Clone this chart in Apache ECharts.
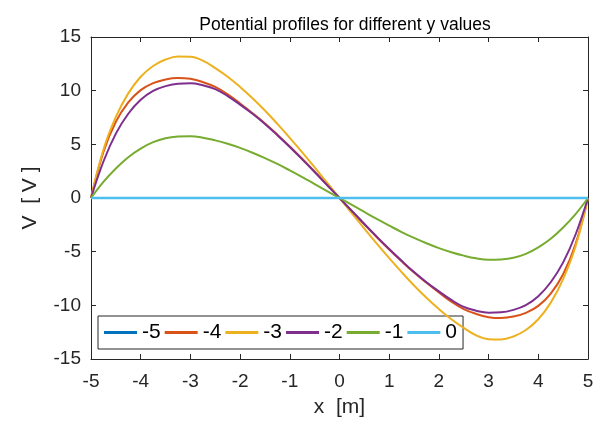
<!DOCTYPE html>
<html>
<head>
<meta charset="utf-8">
<script src="https://cdn.jsdelivr.net/npm/echarts@6/dist/echarts.min.js"></script>
<style>
  html, body { margin: 0; padding: 0; background: #fff; }
  #chart { width: 607px; height: 436px; }
</style>
</head>
<body>
<div id="chart"></div>
<script>
// Potential V(x) along x for several fixed y positions
const xValues = [-5, -4.75, -4.5, -4.25, -4, -3.75, -3.5, -3.25, -3, -2.75, -2.5, -2.25, -2, -1.75, -1.5, -1.25, -1, -0.75, -0.5, -0.25, 0,
                 0.25, 0.5, 0.75, 1, 1.25, 1.5, 1.75, 2, 2.25, 2.5, 2.75, 3, 3.25, 3.5, 3.75, 4, 4.25, 4.5, 4.75, 5];

const seriesNames = ['-5', '-4', '-3', '-2', '-1', '0'];

const vYm5 = [0, 0, 0, 0, 0, 0, 0, 0, 0, 0, 0, 0, 0, 0, 0, 0, 0, 0, 0, 0, 0,
              0, 0, 0, 0, 0, 0, 0, 0, 0, 0, 0, 0, 0, 0, 0, 0, 0, 0, 0, 0];
const vYm4 = [0, 4.3, 7.1, 8.9, 10.05, 10.7, 11.05, 11.18, 11.1, 10.8, 10.35, 9.65, 8.8, 7.9, 6.95, 5.9, 4.8, 3.65, 2.45, 1.23, 0,
              -1.23, -2.45, -3.65, -4.8, -5.9, -6.95, -7.9, -8.8, -9.65, -10.35, -10.8, -11.1, -11.18, -11.05, -10.7, -10.05, -8.9, -7.1, -4.3, 0];
const vYm3 = [0, 4.5, 7.55, 9.75, 11.3, 12.3, 12.9, 13.18, 13.15, 12.8, 12.1, 11.3, 10.35, 9.3, 8.15, 6.9, 5.6, 4.25, 2.85, 1.43, 0,
              -1.43, -2.85, -4.25, -5.6, -6.9, -8.15, -9.3, -10.35, -11.3, -12.1, -12.8, -13.15, -13.18, -12.9, -12.3, -11.3, -9.75, -7.55, -4.5, 0];
const vYm2 = [0, 3.4, 6.0, 7.85, 9.15, 9.98, 10.42, 10.65, 10.68, 10.5, 10.15, 9.5, 8.7, 7.85, 6.9, 5.85, 4.75, 3.6, 2.42, 1.21, 0,
              -1.21, -2.42, -3.6, -4.75, -5.85, -6.9, -7.85, -8.7, -9.5, -10.15, -10.5, -10.68, -10.65, -10.42, -9.98, -9.15, -7.85, -6.0, -3.4, 0];
const vYm1 = [0, 1.5, 2.75, 3.8, 4.6, 5.2, 5.57, 5.72, 5.75, 5.62, 5.37, 5.05, 4.67, 4.22, 3.72, 3.17, 2.57, 1.95, 1.3, 0.65, 0,
              -0.65, -1.3, -1.95, -2.57, -3.17, -3.72, -4.22, -4.67, -5.05, -5.37, -5.62, -5.75, -5.72, -5.57, -5.2, -4.6, -3.8, -2.75, -1.5, 0];
const vY0  = [0, 0, 0, 0, 0, 0, 0, 0, 0, 0, 0, 0, 0, 0, 0, 0, 0, 0, 0, 0, 0,
              0, 0, 0, 0, 0, 0, 0, 0, 0, 0, 0, 0, 0, 0, 0, 0, 0, 0, 0, 0];

const allValues = [vYm5, vYm4, vYm3, vYm2, vYm1, vY0];
const colors = ['#0072BD', '#D95319', '#EDB120', '#7E2F8E', '#77AC30', '#4DBEEE'];

const axisColor = '#262626';
const fontFamily = 'Liberation Sans, Arial, Helvetica, sans-serif';

const chart = echarts.init(document.getElementById('chart'), null, { renderer: 'canvas' });

const series = allValues.map((vals, i) => ({
  name: seriesNames[i],
  type: 'line',
  xAxisIndex: 0,
  yAxisIndex: 0,
  data: xValues.map((x, k) => [x, vals[k]]),
  showSymbol: false,
  symbol: 'none',
  smooth: 0.4,
  lineStyle: { color: colors[i], width: i === 5 ? 2.5 : 2 },
  itemStyle: { color: colors[i] },
  animation: false,
  z: 2 + i
}));

const baseAxis = {
  axisLine: { show: true, onZero: false, lineStyle: { color: axisColor, width: 1 } },
  axisTick: { show: true, inside: true, length: 5, lineStyle: { color: axisColor } },
  splitLine: { show: false }
};

chart.setOption({
  backgroundColor: '#ffffff',
  animation: false,
  title: {
    text: 'Potential profiles for different y values',
    left: 340, top: 11, textAlign: 'center',
    textStyle: { fontFamily, fontSize: 17.5, fontWeight: 'normal', color: '#000' }
  },
  grid: { left: 91, right: 19, top: 37, bottom: 77, containLabel: false },
  legend: {
    data: seriesNames,
    left: 98, top: 316,
    orient: 'horizontal',
    backgroundColor: '#ffffff',
    borderColor: axisColor,
    borderWidth: 1,
    padding: [6, 6, 6, 6],
    itemWidth: 33,
    itemHeight: 14,
    itemGap: 4,
    icon: 'path://M0,0 L33,0 L33,3 L0,3 Z',
    textStyle: { fontFamily, fontSize: 21, color: '#000', lineHeight: 21 }
  },
  xAxis: [
    Object.assign({}, baseAxis, {
      type: 'value', position: 'bottom', min: -5, max: 5, interval: 1,
      name: 'x  [m]', nameLocation: 'middle', nameGap: 38,
      nameTextStyle: { fontFamily, fontSize: 21, color: axisColor },
      axisLabel: { fontFamily, fontSize: 19, color: axisColor, margin: 13 }
    }),
    Object.assign({}, baseAxis, {
      type: 'value', position: 'top', min: -5, max: 5, interval: 1,
      axisLabel: { show: false }
    })
  ],
  yAxis: [
    Object.assign({}, baseAxis, {
      type: 'value', position: 'left', min: -15, max: 15, interval: 5,
      name: 'V  [ V ]', nameLocation: 'middle', nameGap: 50,
      nameTextStyle: { fontFamily, fontSize: 21, color: axisColor },
      axisLabel: { fontFamily, fontSize: 19, color: axisColor, margin: 10 }
    }),
    Object.assign({}, baseAxis, {
      type: 'value', position: 'right', min: -15, max: 15, interval: 5,
      axisLabel: { show: false }
    })
  ],
  series
});
</script>
</body>
</html>
